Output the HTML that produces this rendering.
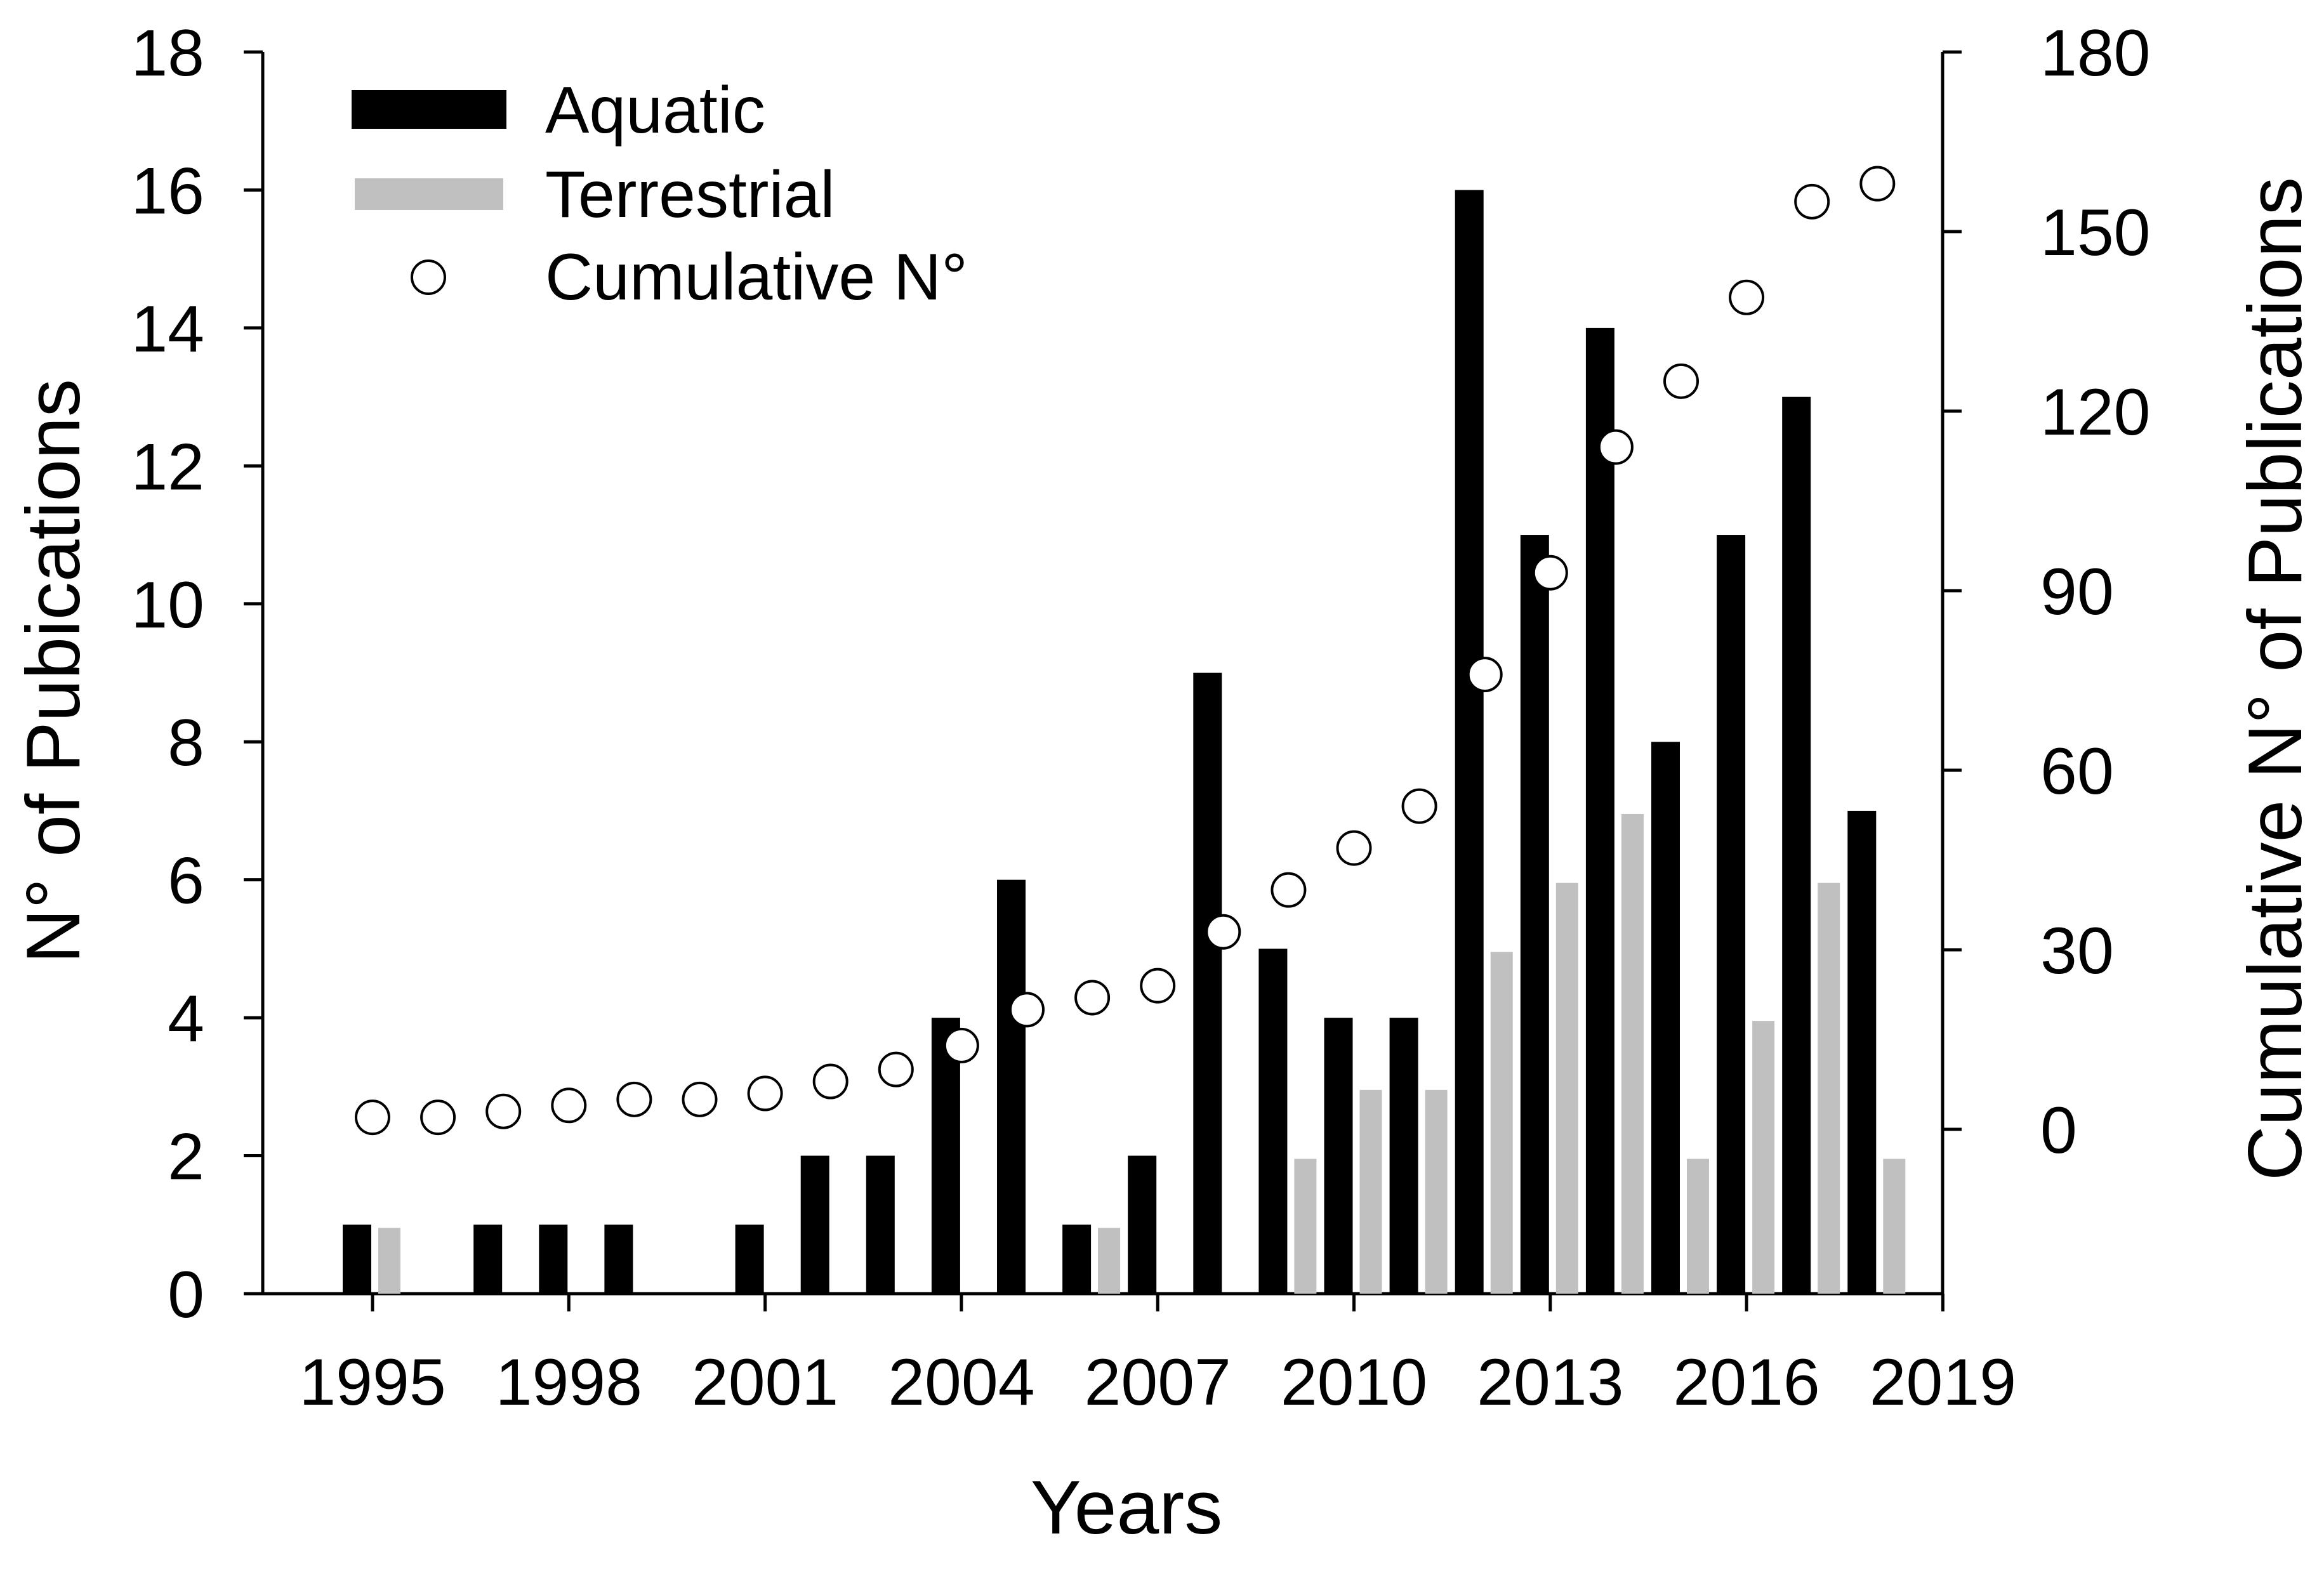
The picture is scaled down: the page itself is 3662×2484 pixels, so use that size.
<!DOCTYPE html>
<html><head><meta charset="utf-8"><style>
html,body{margin:0;padding:0;background:#fff;}
svg{display:block;font-family:"Liberation Sans",Arial,sans-serif;}
</style></head><body>
<svg id="chart" width="3662" height="2484" viewBox="0 0 3662 2484" xmlns="http://www.w3.org/2000/svg">
<g id="axes"></g>
<g id="bars"></g>
<g id="points"></g>
<text transform="translate(125,1058) rotate(-90)" text-anchor="middle" font-size="120">N° of Pubications</text>
<text transform="translate(3626,1070) rotate(-90)" text-anchor="middle" font-size="120">Cumulative N° of Publications</text>
<text x="1775" y="2417" text-anchor="middle" font-size="120">Years</text>
<g>
<rect x="554" y="142" width="244" height="61" fill="#000"/>
<text x="859" y="209" font-size="104">Aquatic</text>
<rect x="559" y="281" width="234" height="50" fill="#c0c0c0"/>
<text x="859" y="342" font-size="104">Terrestrial</text>
<circle cx="675" cy="437" r="26" fill="#fff" stroke="#000" stroke-width="4"/>
<text x="859" y="472" font-size="104">Cumulative N°</text>
</g>
</svg>
<script>
const years = [1995,1996,1997,1998,1999,2000,2001,2002,2003,2004,2005,2006,2007,2008,2009,2010,2011,2012,2013,2014,2015,2016,2017,2018];
const aquatic = [1,0,1,1,1,0,1,2,2,4,6,1,2,9,5,4,4,16,11,14,8,11,13,7];
const terrestrial = [1,0,0,0,0,0,0,0,0,0,0,1,0,0,2,3,3,5,6,7,2,4,6,2];
const cumulative = [2,2,3,4,5,5,6,8,10,14,20,22,24,33,40,47,54,76,93,114,125,139,155,158];
const yTicks = [0,2,4,6,8,10,12,14,16,18];
const y2Ticks = [0,30,60,90,120,150,180];
const xTicks = [1995,1998,2001,2004,2007,2010,2013,2016,2019];

const NS='http://www.w3.org/2000/svg';
const L=414, R=3061, T=82, B=2039;
const x = yr => 587 + (yr-1995)*103.1;
const y = v => B - v*(B-T)/18;
const y2 = v => 1780 - v*(1780-T)/180;
function mk(tag, attrs, parent){const e=document.createElementNS(NS,tag);for(const k in attrs)e.setAttribute(k,attrs[k]);parent.appendChild(e);return e;}
const axes=document.getElementById('axes'), bars=document.getElementById('bars'), pts=document.getElementById('points');

let e;
e=mk('line',{x1:L,y1:T,x2:L,y2:B+2,stroke:'#000','stroke-width':5},axes);


e=mk('line',{x1:R,y1:T,x2:R,y2:B+2,stroke:'#000','stroke-width':5},axes);


e=mk('line',{x1:L-30,y1:B,x2:R+2,y2:B,stroke:'#000','stroke-width':5},axes);



yTicks.forEach(v=>{
  e=mk('line',{x1:L-30,y1:y(v),x2:L,y2:y(v),stroke:'#000','stroke-width':5},axes);
  
  
  e=mk('text',{x:322,y:y(v)+37,'text-anchor':'end','font-size':104},axes);
  e.textContent=v;
  
  
});
y2Ticks.forEach(v=>{
  e=mk('line',{x1:R,y1:y2(v),x2:R+30,y2:y2(v),stroke:'#000','stroke-width':5},axes);
  
  
  e=mk('text',{x:3215,y:y2(v)+37,'text-anchor':'start','font-size':104},axes);
  e.textContent=v;
  
  
});
xTicks.forEach(v=>{
  e=mk('line',{x1:x(v),y1:B,x2:x(v),y2:B+28,stroke:'#000','stroke-width':5},axes);
  
  
  e=mk('text',{x:x(v),y:2214,'text-anchor':'middle','font-size':104},axes);
  e.textContent=v;
  
  
});

years.forEach((yr,i)=>{
  const c=x(yr);
  if(aquatic[i]>0){
    e=mk('rect',{x:c-47,y:y(aquatic[i]),width:45,height:B-y(aquatic[i]),fill:'#000'},bars);
    
    
  }
  if(terrestrial[i]>0){
    e=mk('rect',{x:c+9,y:y(terrestrial[i])+5,width:35,height:B-y(terrestrial[i])-5,fill:'#c0c0c0'},bars);
    
    
  }
  e=mk('circle',{cx:c,cy:y2(cumulative[i]),r:26,fill:'#fff',stroke:'#000','stroke-width':4},pts);
  
  
});
</script>
</body></html>
